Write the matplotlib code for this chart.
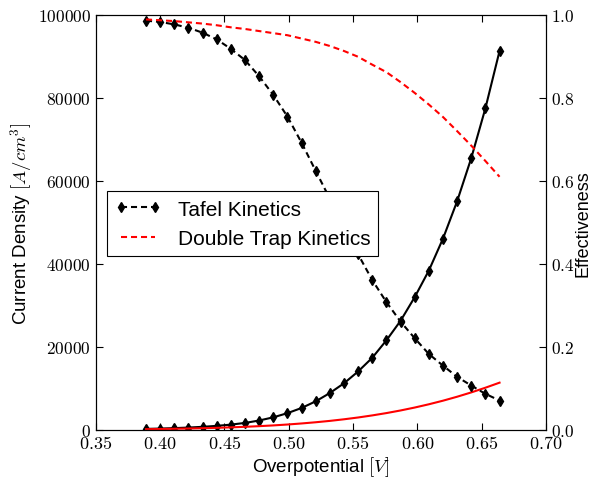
import numpy as np
import matplotlib as mpl
mpl.use('Agg')
import matplotlib.pyplot as plt
from matplotlib.ticker import FuncFormatter, MultipleLocator

# overpotential sweep [V]
eta = [0.389, 0.400, 0.411, 0.422, 0.433, 0.444, 0.455, 0.466, 0.477,
       0.488, 0.499, 0.510, 0.521, 0.532, 0.543, 0.554, 0.565, 0.576,
       0.587, 0.598, 0.609, 0.620, 0.631, 0.642, 0.653, 0.664]

# current density [A/cm^3]
i_tafel = [260, 340, 445, 580, 760, 990, 1290, 1700, 2280, 3050, 4050,
           5300, 6900, 8900, 11250, 14100, 17400, 21600, 26300, 32000,
           38400, 46100, 55100, 65500, 77500, 91300]
i_trap = [190, 233, 286, 350, 427, 520, 631, 763, 920, 1100, 1315, 1570,
          1860, 2190, 2575, 3010, 3510, 4070, 4700, 5405, 6190, 7055,
          8010, 9050, 10180, 11400]

# effectiveness factor
eff_tafel = [0.986, 0.983, 0.977, 0.969, 0.957, 0.941, 0.918, 0.891,
             0.852, 0.807, 0.755, 0.692, 0.624, 0.557, 0.489, 0.423,
             0.361, 0.308, 0.261, 0.221, 0.183, 0.155, 0.128, 0.107,
             0.087, 0.071]
eff_trap = [0.989, 0.987, 0.985, 0.982, 0.979, 0.975, 0.970, 0.966,
            0.961, 0.956, 0.951, 0.943, 0.935, 0.925, 0.913, 0.899,
            0.880, 0.862, 0.838, 0.812, 0.784, 0.754, 0.720, 0.685,
            0.648, 0.610]

plt.rcParams['mathtext.fontset'] = 'cm'
plt.rcParams['font.family'] = ['Liberation Sans', 'DejaVu Sans']


def math_fmt(fmt):
    # tick labels in computer modern via mathtext
    return FuncFormatter(lambda v, p: r'$' + (fmt % v) + r'$')


fig = plt.figure(figsize=(5.92, 4.81), dpi=100)
ax = fig.add_axes([0.162, 0.104, 0.760, 0.863])
ax.plot(eta, i_tafel, color='k', lw=1.5, marker='d', ms=5.5)
ax.plot(eta, i_trap, color='r', lw=1.5)
ax.set_xlim(0.35, 0.70)
ax.set_ylim(0, 100000)
ax.xaxis.set_major_locator(MultipleLocator(0.05))
ax.yaxis.set_major_locator(MultipleLocator(20000))
ax.xaxis.set_major_formatter(math_fmt('%.2f'))
ax.yaxis.set_major_formatter(math_fmt('%d'))
ax.set_xlabel(r'Overpotential $[V]$', fontsize=13.5, labelpad=2)
ax.set_ylabel(r'Current Density $[A/cm^3]$', fontsize=13.5, labelpad=3)
ax.tick_params(axis='both', direction='in', length=5, top=True)
ax.tick_params(axis='x', labelsize=13)
ax.tick_params(axis='y', labelsize=12.5)

ax2 = ax.twinx()
ax2.plot(eta, eff_tafel, color='k', lw=1.5, ls='--', dashes=(2.9, 1.9),
         marker='d', ms=5.5, label='Tafel Kinetics')
ax2.plot(eta, eff_trap, color='r', lw=1.5, ls='--', dashes=(2.9, 1.9),
         label='Double Trap Kinetics')
ax2.set_ylim(0, 1.0)
ax2.yaxis.set_major_locator(MultipleLocator(0.2))
ax2.yaxis.set_major_formatter(math_fmt('%.1f'))
ax2.set_ylabel('Effectiveness', fontsize=13, labelpad=0.5)
ax2.tick_params(axis='y', direction='in', length=5, labelsize=12.5)

leg = ax2.legend(loc='upper left', bbox_to_anchor=(0.024, 0.575),
                 fontsize=15, numpoints=2, fancybox=False,
                 framealpha=1, edgecolor='k', handlelength=2.2,
                 borderaxespad=0)
leg.get_frame().set_linewidth(0.8)

plt.savefig('out.png', dpi=100)
